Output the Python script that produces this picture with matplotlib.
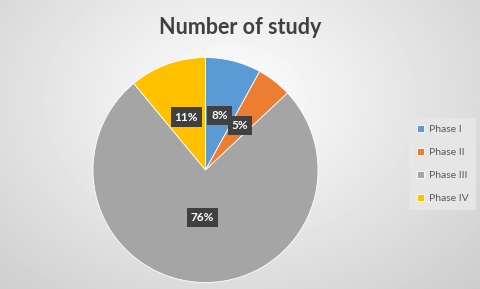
import matplotlib.pyplot as plt
import numpy as np

# data
phases = ["Phase I", "Phase II", "Phase III", "Phase IV"]
shares = [8, 5, 76, 11]
colors = ["#5B9BD5", "#ED7D31", "#A5A5A5", "#FFC000"]

fig = plt.figure(figsize=(4.8, 2.89), dpi=100)

# radial grey background like the Excel chart area
bg = fig.add_axes([0, 0, 1, 1])
yy, xx = np.mgrid[0:289, 0:480]
r = np.sqrt(((xx - 230) / 300.0) ** 2 + ((yy - 100) / 230.0) ** 2)
shade = np.clip(1.0 - 0.17 * r, 0.8, 1.0)
bg.imshow(shade, cmap="gray", vmin=0, vmax=1, aspect="auto", interpolation="bilinear")
bg.axis("off")

# pie
ax = fig.add_axes([93.0 / 480, (289 - 283.0) / 289, 225.0 / 480, 226.0 / 289])
wedges, texts, autotexts = ax.pie(
    shares, colors=colors, startangle=90, counterclock=False,
    autopct="%d%%", pctdistance=0.5,
    wedgeprops=dict(edgecolor="white", linewidth=0.6),
    textprops=dict(color="white", fontsize=8.5, fontweight="bold", family="Lato"),
)
for t in autotexts:
    t.set_bbox(dict(facecolor="#404040", edgecolor="none", boxstyle="square,pad=0.35"))
# big slice label sits a bit nearer the centre in the original
x, y = autotexts[2].get_position()
autotexts[2].set_position((x * 0.84, y * 0.84))
ax.set_xlim(-1.0, 1.0)
ax.set_ylim(-1.0, 1.0)
ax.set_aspect("equal")

fig.text(0.5, 0.905, "Number of study", ha="center", va="center",
         fontsize=15.5, fontweight="bold", color="#404040", family="Lato")

leg = fig.legend(wedges, phases, loc="center left", bbox_to_anchor=(404 / 480, 1 - 164 / 289),
                 frameon=True, fontsize=7.5, handlelength=0.7, handleheight=0.7,
                 labelspacing=1.3, borderpad=0.7, handletextpad=0.5, fancybox=False)
leg.get_frame().set_facecolor("#E6E6E6")
leg.get_frame().set_edgecolor("none")
leg.get_frame().set_alpha(1)
for t in leg.get_texts():
    t.set_color("#595959")
    t.set_family("Lato")

fig.savefig("out.png", dpi=100)
